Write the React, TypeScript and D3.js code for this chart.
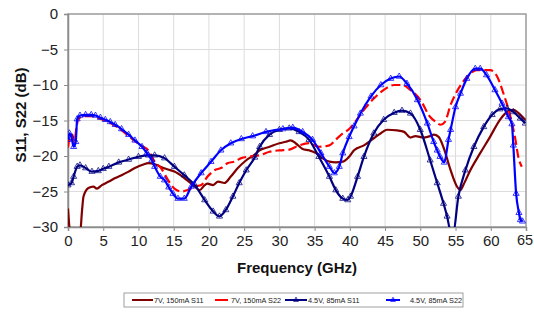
import { useEffect, useRef } from "react";
import * as d3 from "d3";

// axis ticks
const xTicks = [0, 5, 10, 15, 20, 25, 30, 35, 40, 45, 50, 55, 60, 65];
const yTicks = [0, -5, -10, -15, -20, -25, -30];

const seriesNames = ["7V, 150mA S11", "7V, 150mA S22", "4.5V, 85mA S11", "4.5V, 85mA S22"];

// 7V, 150mA S11
const s11HighFreq = [0, 0.2, 0.4, 1.7, 2.0, 2.2, 2.9, 3.6, 4.1, 4.8, 5.8, 6.7, 7.6, 8.6, 9.5, 10.7, 11.4, 12.4, 13.3, 14.2, 15.1, 16.5, 18, 18.7, 19.4, 19.8, 20.6, 21.3, 22.2, 23.1, 24.1, 25.3, 26.5, 27.2, 28.6, 30, 30.9, 31.6, 32.3, 33.3, 34.2, 35.2, 36.1, 37.1, 38, 39, 39.9, 40.6, 42, 43.4, 44.4, 45.3, 46.7, 47.7, 48.6, 49.3, 50.5, 51.4, 51.9, 52.6, 53.3, 54.3, 55.2, 55.7, 56.1, 57.1, 58.5, 59.9, 61.3, 62.3, 63.2, 64.2, 64.9];
const s11HighDb = [-27.4, -30, -31, -31, -27.6, -25.7, -24.5, -24.3, -24.6, -24.1, -23.6, -23.1, -22.7, -22.2, -21.7, -21.2, -21.0, -21.2, -21.6, -21.9, -22.2, -23.1, -24.3, -24.8, -24.1, -23.9, -24.1, -23.6, -23.8, -22.9, -21.7, -20.6, -19.8, -19.2, -18.7, -18.2, -18.0, -17.8, -18.2, -19.0, -19.2, -19.6, -20.3, -20.8, -20.9, -20.8, -20.1, -19.2, -18.5, -17.5, -16.8, -16.3, -16.4, -16.6, -17.4, -17.2, -17.4, -17.2, -17.0, -17.3, -18.8, -22.0, -24.3, -24.8, -24.1, -22.0, -19.6, -17.3, -14.9, -13.8, -13.5, -14.2, -14.9];

// 7V, 150mA S22
const s22HighFreq = [0, 0.3, 0.6, 0.9, 1.2, 1.5, 2.5, 3.5, 4.5, 5.5, 6.5, 7.5, 8.5, 9.5, 10.5, 11.4, 12.3, 13.2, 14.2, 15.1, 16.1, 17, 18, 18.9, 19.8, 20.8, 21.7, 22.7, 23.6, 24.6, 25.5, 27.2, 28.6, 30, 31.4, 32.8, 34.2, 35.6, 37.1, 38, 39, 39.9, 40.6, 42, 43.4, 44.8, 46.3, 47.4, 48.6, 50, 51.4, 52.2, 52.9, 53.5, 54.3, 55.2, 56.1, 57.1, 58, 59, 59.9, 60.9, 61.8, 62.8, 63.5, 63.9, 64.4];
const s22HighDb = [-18.8, -17.2, -17.0, -18.0, -16.0, -14.7, -14.4, -14.4, -14.7, -15.1, -15.6, -16.3, -17.1, -17.9, -18.6, -19.2, -20.8, -21.7, -23.4, -24.6, -25.0, -24.8, -24.3, -24.1, -22.9, -22.0, -21.7, -21.0, -20.8, -20.3, -20.1, -19.9, -19.4, -19.2, -19.1, -18.5, -18.2, -18.7, -18.5, -17.7, -16.8, -16.2, -15.4, -13.5, -11.9, -10.7, -10.0, -10.0, -10.7, -12.1, -14.5, -15.2, -15.6, -15.2, -12.8, -10.9, -9.5, -8.4, -7.9, -7.9, -7.9, -8.8, -11.2, -14.5, -17.7, -20.1, -21.5];

// 4.5V, 85mA S11
const s11LowFreq = [0, 0.5, 0.8, 1.3, 1.7, 2.5, 3.4, 4.3, 5, 5.8, 7.2, 8.6, 10, 11.4, 12.3, 13.7, 15.1, 16.5, 18, 19.4, 20.6, 21.5, 22.4, 23.4, 24.3, 25.3, 26.5, 27.2, 28.6, 30, 31.4, 32.8, 34.2, 35.6, 37.1, 38, 39, 39.7, 40.1, 41.1, 42, 43.4, 44.8, 46.3, 47.4, 48.6, 50, 51.4, 52.4, 53.3, 53.8, 54.3, 54.7, 55.4, 56.4, 57.6, 59, 60.2, 61.3, 62.3, 63.2, 64.2, 64.9];
const s11LowDb = [-24.1, -23.8, -22.9, -21.5, -21.3, -21.7, -22.2, -22.1, -21.8, -21.5, -20.9, -20.5, -20.1, -19.9, -19.9, -20.3, -21.5, -22.7, -24.1, -26.2, -27.8, -28.5, -27.6, -25.7, -23.8, -22.0, -20.2, -18.7, -17.0, -16.3, -16.1, -16.6, -17.7, -20.1, -22.9, -24.8, -26.0, -26.2, -25.7, -22.9, -20.1, -16.8, -14.9, -13.9, -13.6, -14.0, -16.3, -20.6, -23.8, -26.7, -28.5, -30.5, -30.5, -25.7, -22.0, -18.7, -15.9, -14.2, -13.4, -13.3, -13.8, -14.7, -15.4];

// 4.5V, 85mA S22
const s22LowFreq = [0, 0.2, 0.5, 0.8, 1.1, 1.3, 1.7, 2.5, 3.3, 3.9, 4.6, 5.3, 6.0, 6.7, 7.6, 8.6, 9.5, 10.5, 11.2, 11.9, 12.3, 13.1, 13.7, 14.3, 14.9, 15.6, 16.5, 17.5, 18.9, 20.3, 21.7, 23.1, 24.6, 26.2, 28.1, 30.5, 31.9, 33.3, 34.7, 35.9, 37.1, 37.8, 38.5, 39, 39.9, 40.6, 41.5, 43, 44.4, 45.8, 47, 48.1, 49.6, 51, 51.9, 52.4, 52.8, 53.4, 54, 54.3, 55, 55.7, 56.6, 57.8, 58.5, 59.4, 60.6, 61.6, 62.5, 63.0, 63.2, 63.6, 64.0, 64.2, 64.5];
const s22LowDb = [-17.7, -16.8, -17.4, -18.7, -18.0, -14.8, -14.3, -14.2, -14.2, -14.3, -14.6, -14.9, -15.2, -15.6, -16.2, -17.0, -17.8, -18.7, -19.6, -20.6, -21.5, -22.9, -23.4, -24.4, -25.3, -26.0, -26.0, -24.3, -22.4, -20.8, -19.2, -18.2, -17.6, -17.2, -16.6, -16.2, -16.0, -16.6, -17.7, -19.6, -21.5, -22.4, -21.5, -19.6, -17.3, -15.8, -14.0, -11.6, -10.0, -9.1, -8.8, -9.8, -12.1, -15.4, -18.0, -19.2, -20.1, -20.9, -17.7, -16.3, -13.1, -11.2, -9.1, -7.7, -7.7, -8.6, -10.7, -12.6, -14.5, -15.5, -18.5, -25.3, -28.0, -29.0, -29.2];

const seriesFreqs = [s11HighFreq, s22HighFreq, s11LowFreq, s22LowFreq];
const seriesDbs = [s11HighDb, s22HighDb, s11LowDb, s22LowDb];
const seriesColors = ["#800000", "#ff0000", "#000080", "#0000ff"];
const seriesDash = [null, "9,4", null, null];
const seriesMarker = [false, false, true, true];

const FONT = "'Liberation Sans', Arial, sans-serif";

const App = () => {
  const svgRef = useRef<SVGSVGElement>(null);
  const width = 534;
  const height = 312;

  useEffect(() => {
    const svg = d3.select(svgRef.current);
    svg.selectAll("*").remove();

    const plot = { left: 68, right: 526, top: 14, bottom: 227 };

    const xScale = d3.scaleLinear().domain([0, 65]).range([plot.left, plot.right]);
    const yScale = d3.scaleLinear().domain([-30, 0]).range([plot.bottom, plot.top]);

    svg.append("rect").attr("width", width).attr("height", height).attr("fill", "#fff");

    // grid
    svg
      .append("g")
      .selectAll("line")
      .data(xTicks)
      .join("line")
      .attr("x1", (d) => xScale(d))
      .attr("x2", (d) => xScale(d))
      .attr("y1", plot.top)
      .attr("y2", plot.bottom)
      .attr("stroke", "#dcdcdc")
      .attr("stroke-width", 1);
    svg
      .append("g")
      .selectAll("line")
      .data(yTicks)
      .join("line")
      .attr("x1", plot.left)
      .attr("x2", plot.right)
      .attr("y1", (d) => yScale(d))
      .attr("y2", (d) => yScale(d))
      .attr("stroke", "#dcdcdc")
      .attr("stroke-width", 1);

    // frame
    svg
      .append("rect")
      .attr("x", plot.left)
      .attr("y", plot.top)
      .attr("width", plot.right - plot.left)
      .attr("height", plot.bottom - plot.top)
      .attr("fill", "none")
      .attr("stroke", "#a0a0a0")
      .attr("stroke-width", 1.5);

    // axes
    const xAxis = d3.axisBottom(xScale).tickValues(xTicks).tickSize(4).tickPadding(4);
    const gx = svg.append("g").attr("transform", `translate(0, ${plot.bottom})`).call(xAxis);
    const yAxis = d3.axisLeft(yScale).tickValues(yTicks).tickSize(4).tickPadding(6);
    const gy = svg.append("g").attr("transform", `translate(${plot.left}, 0)`).call(yAxis);
    [gx, gy].forEach((g) => {
      g.select(".domain").attr("stroke", "#8c8c8c").attr("stroke-width", 1.5);
      g.selectAll(".tick line").attr("stroke", "#8c8c8c");
      g.selectAll(".tick text")
        .attr("font-family", FONT)
        .attr("font-size", 15)
        .attr("fill", "#222");
    });
    // keep the last x label inside the page
    gx.selectAll<SVGTextElement, number>(".tick text")
      .filter((d) => d === 65)
      .attr("dx", -1.5)
      .attr("font-size", 14.5);

    // axis titles
    svg
      .append("text")
      .attr("x", 297)
      .attr("y", 273)
      .attr("text-anchor", "middle")
      .attr("font-family", FONT)
      .attr("font-size", 15)
      .attr("font-weight", "bold")
      .attr("fill", "#111")
      .text("Frequency (GHz)");
    svg
      .append("text")
      .attr("transform", "translate(26, 115) rotate(-90)")
      .attr("text-anchor", "middle")
      .attr("font-family", FONT)
      .attr("font-size", 15)
      .attr("font-weight", "bold")
      .attr("fill", "#111")
      .text("S11, S22 (dB)");

    // series
    svg
      .append("clipPath")
      .attr("id", "plot-clip")
      .append("rect")
      .attr("x", plot.left)
      .attr("y", plot.top)
      .attr("width", plot.right - plot.left)
      .attr("height", plot.bottom - plot.top);

    const gSeries = svg.append("g").attr("clip-path", "url(#plot-clip)");
    const line = d3
      .line<[number, number]>()
      .x((d) => xScale(d[0]))
      .y((d) => yScale(d[1]))
      .curve(d3.curveMonotoneX);
    const tri = d3.symbol(d3.symbolTriangle, 16);

    seriesFreqs.forEach((freqs, i) => {
      const pts: [number, number][] = freqs.map((f, j) => [f, seriesDbs[i][j]]);
      gSeries
        .append("path")
        .datum(pts)
        .attr("fill", "none")
        .attr("stroke", seriesColors[i])
        .attr("stroke-width", 2.2)
        .attr("stroke-dasharray", seriesDash[i])
        .attr("d", line);
      if (seriesMarker[i]) {
        gSeries
          .append("g")
          .selectAll("path")
          .data(pts)
          .join("path")
          .attr("transform", (d) => `translate(${xScale(d[0])}, ${yScale(d[1])})`)
          .attr("d", tri)
          .attr("fill", "none")
          .attr("stroke", seriesColors[i])
          .attr("stroke-opacity", 0.75)
          .attr("stroke-width", 1);
      }
    });

    // legend
    const legend = svg.append("g");
    legend
      .append("rect")
      .attr("x", 124)
      .attr("y", 293)
      .attr("width", 339)
      .attr("height", 14)
      .attr("fill", "#fff")
      .attr("stroke", "#888")
      .attr("stroke-width", 0.8);
    const itemX = [132, 215, 285, 386];
    const lineW = [21, 13, 22, 14];
    const textX = [154, 231, 308, 410];
    seriesNames.forEach((name, i) => {
      const x0 = itemX[i];
      legend
        .append("line")
        .attr("x1", x0)
        .attr("x2", x0 + lineW[i])
        .attr("y1", 300)
        .attr("y2", 300)
        .attr("stroke", seriesColors[i])
        .attr("stroke-width", 2);
      if (seriesMarker[i]) {
        legend
          .append("path")
          .attr("transform", `translate(${x0 + lineW[i] / 2}, 300)`)
          .attr("d", d3.symbol(d3.symbolTriangle, 10))
          .attr("fill", "none")
          .attr("stroke", seriesColors[i])
          .attr("stroke-width", 0.8);
      }
      legend
        .append("text")
        .attr("x", textX[i])
        .attr("y", 302.5)
        .attr("font-family", FONT)
        .attr("font-size", 7.3)
        .attr("fill", "#222")
        .text(name);
    });
  }, []);

  return (
    <div style={{ position: "absolute", left: 0, top: 0, width, height }}>
      <svg ref={svgRef} width={width} height={height} style={{ display: "block" }} />
    </div>
  );
};

export default App;
